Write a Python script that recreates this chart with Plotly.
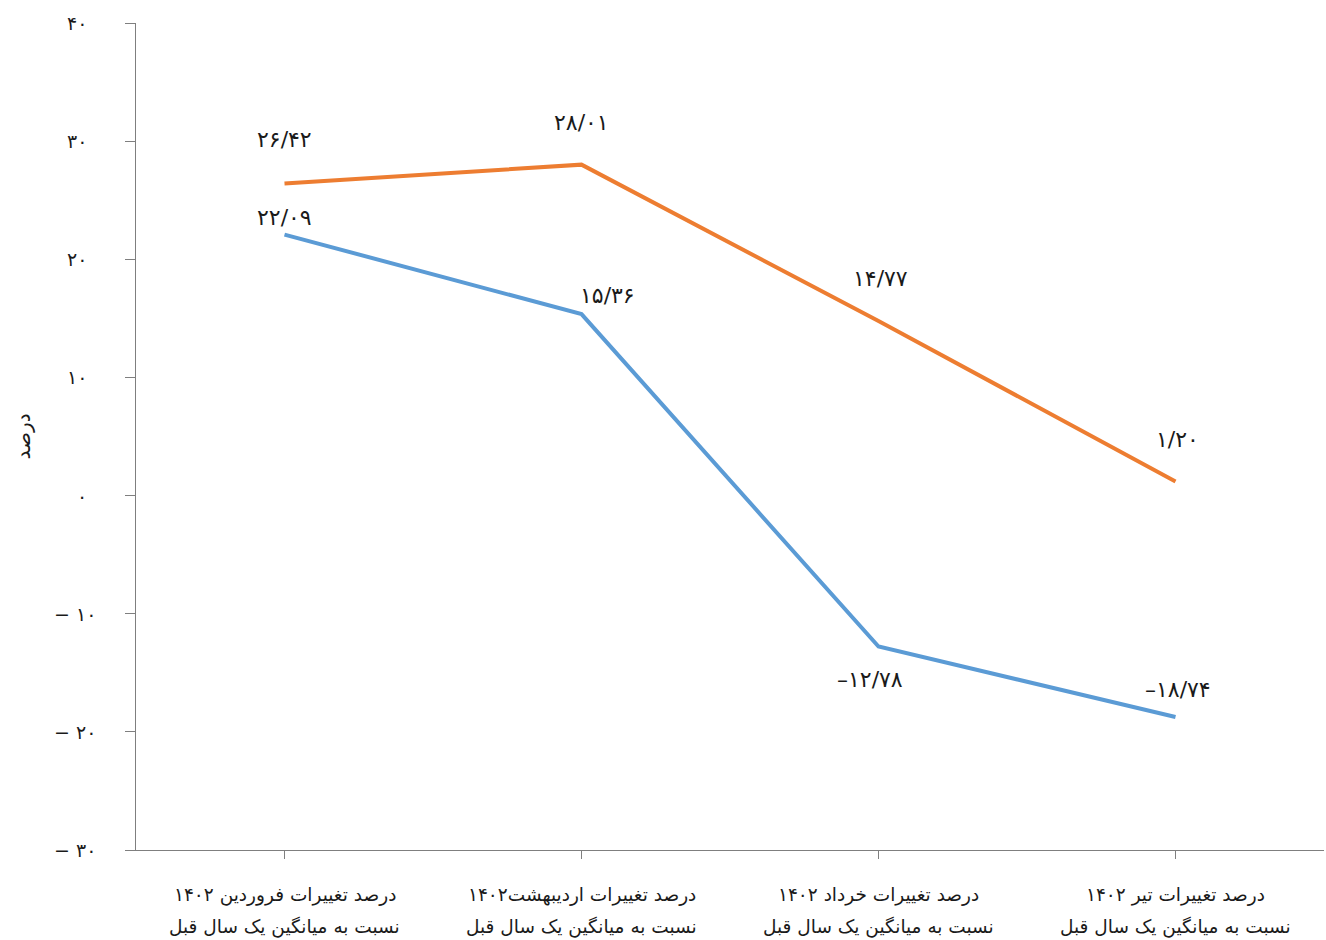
import plotly.graph_objects as go

categories = [
    "درصد تغییرات فروردین ۱۴۰۲\nنسبت به میانگین یک سال قبل",
    "درصد تغییرات اردیبهشت۱۴۰۲\nنسبت به میانگین یک سال قبل",
    "درصد تغییرات خرداد ۱۴۰۲\nنسبت به میانگین یک سال قبل",
    "درصد تغییرات تیر ۱۴۰۲\nنسبت به میانگین یک سال قبل",
]
orange_values = [26.42, 28.01, 14.77, 1.20]
blue_values = [22.09, 15.36, -12.78, -18.74]
y_tick_vals = [40, 30, 20, 10, 0, -10, -20, -30]
y_tick_text = ["۴۰", "۳۰", "۲۰", "۱۰", "۰", "− ۱۰", "− ۲۰", "− ۳۰"]
y_title = "درصد"

ORANGE = "#ED7D31"
BLUE = "#5B9BD5"
FONT = "DejaVu Sans"
TXT = "#1a1a1a"

# label offsets (pixels) for data labels
orange_shift = [(0, 44), (0, 42), (2, 43), (2, 42)]
blue_shift = [(0, 17), (26, 19), (-9, -33), (2, 27)]
cat_line_shift = [-45, -77]

PERS = str.maketrans("0123456789.-", "۰۱۲۳۴۵۶۷۸۹/–")


def fa(v):
    return f"{v:.2f}".translate(PERS)


xs = list(range(len(categories)))

fig = go.Figure()
fig.add_trace(go.Scatter(x=xs, y=orange_values, mode="lines",
                         line=dict(color=ORANGE, width=4), showlegend=False,
                         hoverinfo="skip"))
fig.add_trace(go.Scatter(x=xs, y=blue_values, mode="lines",
                         line=dict(color=BLUE, width=4), showlegend=False,
                         hoverinfo="skip"))

for vals, shifts in ((orange_values, orange_shift), (blue_values, blue_shift)):
    for i, v in enumerate(vals):
        fig.add_annotation(x=xs[i], y=v, xref="x", yref="y", text=fa(v),
                           showarrow=False, xshift=shifts[i][0], yshift=shifts[i][1],
                           font=dict(family=FONT, size=22, color=TXT))

for i, cat in enumerate(categories):
    for j, line in enumerate(cat.split("\n")):
        fig.add_annotation(x=xs[i], y=0, xref="x", yref="paper", text=line,
                           showarrow=False, yanchor="middle", yshift=cat_line_shift[j],
                           font=dict(family=FONT, size=18.5, color=TXT))

# y tick labels
for v, t in zip(y_tick_vals, y_tick_text):
    fig.add_annotation(x=0, y=v, xref="paper", yref="y", text=t, showarrow=False,
                       xanchor="right", yanchor="middle",
                       xshift=-47 if v >= 0 else -38,
                       font=dict(family=FONT, size=19, color=TXT))

# y axis title
fig.add_annotation(x=0, y=0.5, xref="paper", yref="paper", text=y_title,
                   showarrow=False, textangle=-90, xanchor="center", yanchor="middle",
                   xshift=-114, font=dict(family=FONT, size=20, color=TXT))

fig.update_layout(
    width=1326, height=940,
    margin=dict(l=136, r=2, t=23, b=90, autoexpand=False),
    paper_bgcolor="white", plot_bgcolor="white",
    font=dict(family=FONT, color=TXT),
)
fig.update_xaxes(
    range=[-0.5, 3.5], tickvals=xs, showticklabels=False, automargin=False,
    showgrid=False, zeroline=False, showline=True, linecolor="#7f7f7f", linewidth=1,
    ticks="outside", ticklen=8, tickcolor="#7f7f7f",
)
fig.update_yaxes(
    range=[-30, 40], tickvals=y_tick_vals, showticklabels=False, automargin=False,
    showgrid=False, zeroline=False, showline=True, linecolor="#7f7f7f", linewidth=1,
    ticks="outside", ticklen=10, tickcolor="#7f7f7f",
)

fig.write_html("out.html", config={"displayModeBar": False},
               post_script="document.body.style.margin='0';")
